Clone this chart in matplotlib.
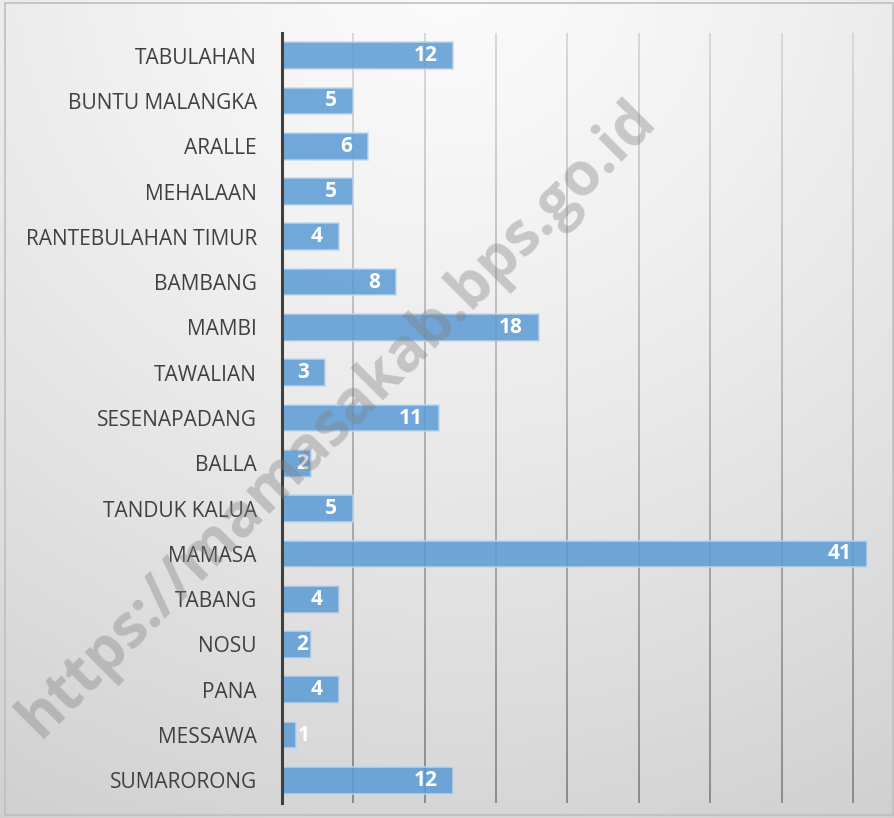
import matplotlib
matplotlib.use("Agg")
import matplotlib.pyplot as plt
import numpy as np
from matplotlib.collections import LineCollection
from matplotlib.colors import to_rgb

# data, top to bottom as shown
districts = [
    "TABULAHAN", "BUNTU MALANGKA", "ARALLE", "MEHALAAN", "RANTEBULAHAN TIMUR",
    "BAMBANG", "MAMBI", "TAWALIAN", "SESENAPADANG", "BALLA", "TANDUK KALUA",
    "MAMASA", "TABANG", "NOSU", "PANA", "MESSAWA", "SUMARORONG",
]
counts = [12, 5, 6, 5, 4, 8, 18, 3, 11, 2, 5, 41, 4, 2, 4, 1, 12]
grid_ticks = [5, 10, 15, 20, 25, 30, 35, 40]

FONT = "Open Sans"
W, H = 894, 818

fig = plt.figure(figsize=(W / 100, H / 100), dpi=100)
fig.patch.set_facecolor("white")

# ── background: radial grey gradient ─────────────────────
bg = fig.add_axes([0, 0, 1, 1], zorder=-2)
yy, xx = np.mgrid[0:H, 0:W]
dist = np.hypot(xx - W / 2, yy + 40) / np.hypot(W / 2, H + 40)
shade = np.clip(0.985 - 0.17 * dist ** 1.3, 0, 1)
bg.imshow(np.dstack([shade] * 3), extent=(0, W, H, 0), aspect="auto")
bg.add_patch(plt.Rectangle((5, 3), W - 6, H - 6, fill=False, ec="#BFBFBF", lw=1.2))
bg.set_xlim(0, W)
bg.set_ylim(H, 0)
bg.axis("off")

# ── main axes ────────────────────────────────────────────
ax = fig.add_axes([282 / W, 1 - 803 / H, (870 - 282) / W, (803 - 33) / H])
ax.patch.set_alpha(0)

ypos = np.arange(len(districts))
ax.set_xlim(0, 41.2)
ax.set_ylim(len(districts) - 0.5, -0.5)

# gridlines that darken toward the bottom
top_c = np.array(to_rgb("#D8D8D8"))
bot_c = np.array(to_rgb("#8A8A8A"))
n_seg = 60
edges = np.linspace(-0.5, len(districts) - 0.5, n_seg + 1)
for gx in grid_ticks:
    segs = [[(gx, edges[i]), (gx, edges[i + 1])] for i in range(n_seg)]
    cols = [top_c + (bot_c - top_c) * (i / n_seg) for i in range(n_seg)]
    ax.add_collection(LineCollection(segs, colors=cols, linewidths=1.4, zorder=1))

ax.barh(ypos, counts, height=0.59, color="#5B9BD5", alpha=0.85,
        edgecolor="#BDD7EE", linewidth=1.2, zorder=2)

for y, v in zip(ypos, counts):
    if v == 1:
        off, ha = (1, "left")
    elif v == 2:
        off, ha = (-1.5, "right")
    else:
        off, ha = (-11.5, "right")
    ax.annotate(str(v), (v, y), xytext=(off, 0), textcoords="offset points",
                ha=ha, va="center", color="white", fontsize=15,
                fontweight="bold", family=FONT, zorder=3)

ax.set_yticks(ypos)
ax.set_yticklabels(districts, family=FONT, fontsize=15, color="#404040")
ax.tick_params(axis="y", length=0, pad=18)
ax.set_xticks([])
for side in ["top", "right", "bottom"]:
    ax.spines[side].set_visible(False)
ax.spines["left"].set_color("#404040")
ax.spines["left"].set_linewidth(2.2)
ax.spines["left"].set_zorder(4)

# watermark
fig.text(338 / W, 1 - 420 / H, "https://mamasakab.bps.go.id", rotation=45,
         rotation_mode="anchor", ha="center", va="center", fontsize=43,
         fontweight="bold", family=FONT, color="#808080", alpha=0.38, zorder=10)

fig.savefig("out.png", dpi=100)
